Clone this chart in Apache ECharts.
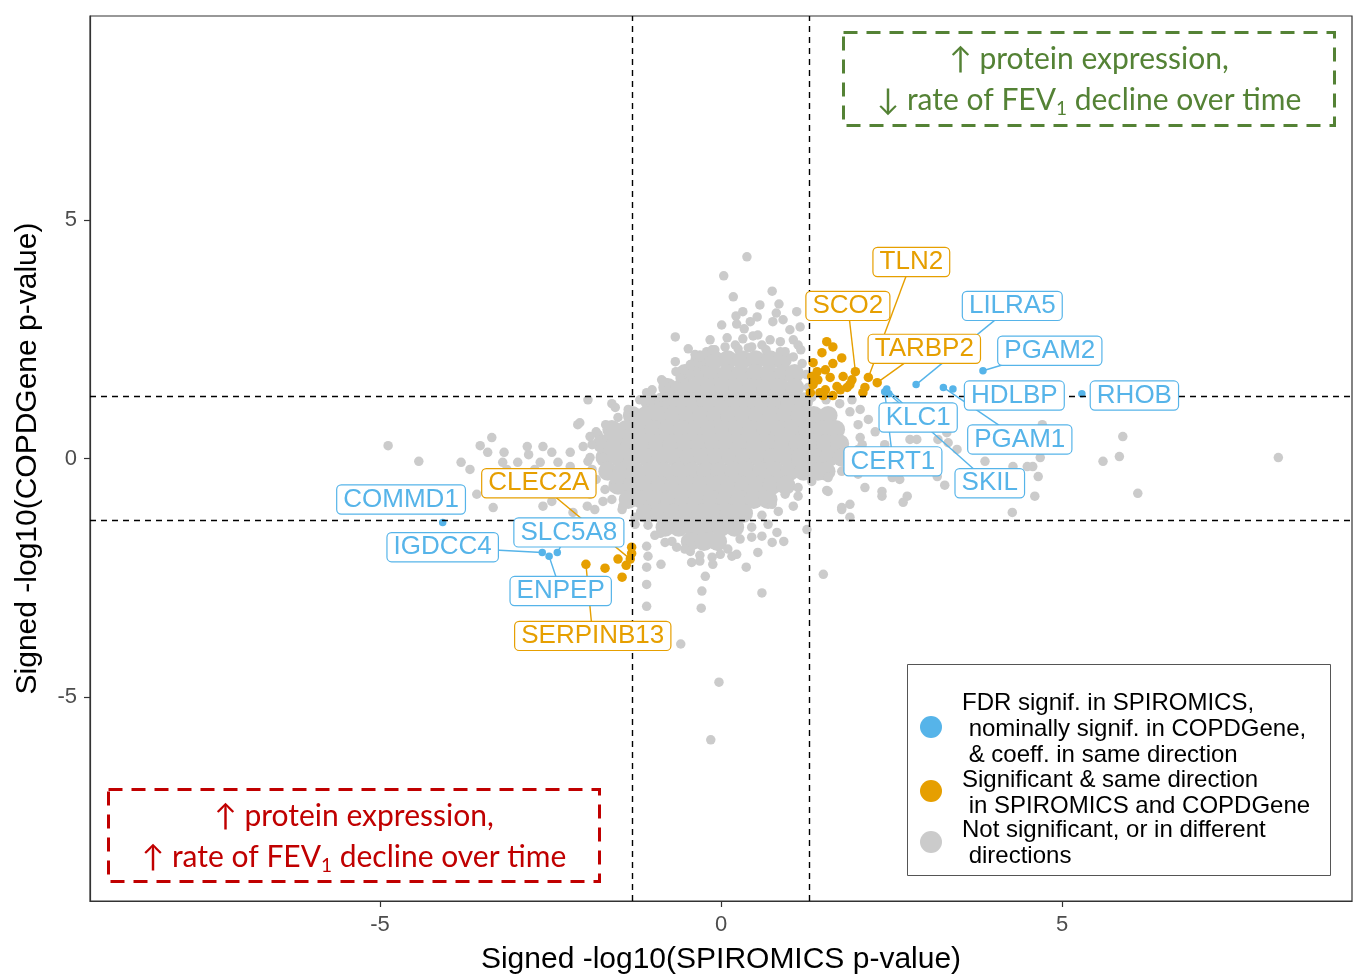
<!DOCTYPE html>
<html><head><meta charset="utf-8">
<script src="https://cdn.jsdelivr.net/npm/echarts@6/dist/echarts.min.js"></script>
<style>html,body{margin:0;padding:0;background:#fff}#c{width:1353px;height:980px}</style>
</head><body><div id="c"></div>
<script>
// ---------- data ----------
const xTicks = [-5, 0, 5];
const yTicks = [-5, 0, 5];
const threshold = 1.301; // -log10(0.05)

// dense core of the gray cloud: rows of [y, [x...]]
const grayCoreRows = [
  [2.07, [-0.31,-0.10,0.10,0.31,0.51,0.72,0.90]],
  [1.78, [-0.53,-0.32,-0.12,0.09,0.29,0.50,0.70,0.91,1.08]],
  [1.49, [-0.78,-0.57,-0.37,-0.16,0.04,0.25,0.45,0.66,0.86,1.08]],
  [1.19, [-1.04,-0.84,-0.63,-0.43,-0.22,-0.02,0.19,0.39,0.60,0.80,1.01,1.21]],
  [0.90, [-1.30,-1.10,-0.89,-0.69,-0.48,-0.28,-0.07,0.13,0.34,0.54,0.75,0.95,1.16,1.36,1.57]],
  [0.61, [-1.60,-1.39,-1.19,-0.98,-0.78,-0.57,-0.37,-0.16,0.04,0.25,0.45,0.66,0.86,1.07,1.27,1.48,1.68]],
  [0.31, [-1.74,-1.54,-1.33,-1.13,-0.92,-0.72,-0.51,-0.31,-0.10,0.10,0.31,0.51,0.72,0.92,1.13,1.33,1.54,1.74]],
  [0.02, [-1.70,-1.49,-1.29,-1.08,-0.88,-0.67,-0.47,-0.26,-0.06,0.15,0.35,0.56,0.76,0.97,1.17,1.38,1.58,1.78]],
  [-0.27,[-1.66,-1.45,-1.25,-1.04,-0.84,-0.63,-0.43,-0.22,-0.02,0.19,0.39,0.60,0.80,1.01,1.21,1.42,1.54]],
  [-0.56,[-1.51,-1.30,-1.10,-0.89,-0.69,-0.48,-0.28,-0.07,0.13,0.34,0.54,0.75,0.95]],
  [-0.86,[-1.36,-1.16,-0.95,-0.75,-0.54,-0.34,-0.13,0.07,0.28,0.48,0.69]],
  [-1.15,[-1.11,-0.90,-0.70,-0.49,-0.29,-0.08,0.12,0.33]],
  [-1.44,[-0.82,-0.62,-0.41,-0.21,0.00,0.20]],
  [-1.74,[-0.45,-0.25,-0.05]]
];

// scattered gray points (not significant / different directions)
const grayPoints = [
  // above the core
  [0.38,4.23],[0.04,3.83],[0.18,3.39],[0.75,3.51],[0.32,3.08],[0.22,2.99],[0.85,3.24],[1.11,3.08],
  [0.53,2.97],[0.23,2.82],[0.01,2.80],[0.34,2.72],[0.81,3.05],[0.91,2.91],[1.16,2.76],[0.76,2.87],
  [-0.67,2.55],[-0.48,2.30],[-0.67,2.03],[-0.35,2.01],[-0.21,2.24],[-0.09,2.28],[0.09,2.53],[0.32,2.51],
  [0.47,2.57],[0.54,2.59],[0.60,2.38],[0.72,2.49],[0.87,2.45],[1.06,2.49],[1.13,2.38],[1.17,2.28],
  [-0.67,1.51],[-1.09,1.38],[-1.60,1.15],[-1.95,1.23],[-1.55,1.07],[-2.07,0.75],[-1.80,0.50],[-1.38,0.71],
  [-1.07,1.23],[-0.89,1.28],[-0.60,1.69],[-0.45,1.76],[-0.23,1.86],[0.57,3.22],[1.01,2.70],[0.43,2.87],
  [-0.16,2.49],[0.21,2.38],[0.94,2.24],[-0.38,2.18],[0.40,2.32],[-0.87,1.65],
  // rim of the core
  [-1.19,1.23],[-1.36,1.03],[-1.51,0.86],[-1.69,0.71],[-1.83,0.56],[-1.89,0.29],[-1.92,0.02],[-1.89,-0.23],
  [-1.83,-0.44],[-1.70,-0.65],[-1.60,-0.86],[-1.45,-1.07],[-1.26,-1.23],[-1.07,-1.40],[-0.89,-1.57],[-0.72,-1.74],
  [-0.53,-1.90],[-0.31,-2.03],[-0.13,-2.07],[0.10,-1.90],[0.28,-1.69],[0.45,-1.44],[0.60,-1.19],[0.75,-0.96],
  [0.94,-0.75],[1.13,-0.61],[1.33,-0.48],[1.57,-0.40],[1.77,-0.27],[1.92,-0.06],[2.01,0.19],[2.04,0.44],
  [2.01,0.71],[1.89,0.98],[1.74,1.15],[1.54,1.23],[1.33,1.28],[-0.45,1.97],[-0.31,2.13],[-0.13,2.28],
  [0.06,2.34],[0.25,2.30],[0.45,2.34],[0.66,2.28],[0.87,2.24],[1.06,2.13],[1.19,1.99],[1.25,1.76],
  [1.28,1.49],[-0.66,1.82],[-0.84,1.61],[-1.01,1.44],
  // left side
  [-4.88,0.27],[-4.43,-0.06],[-3.81,-0.08],[-3.68,-0.23],[-3.53,0.27],[-3.42,0.13],[-3.36,0.44],[-3.18,0.13],
  [-3.20,-0.08],[-3.14,-0.23],[-2.98,-0.08],[-2.82,0.08],[-2.84,0.25],[-2.61,0.25],[-2.48,0.13],[-2.39,-0.08],
  [-2.65,-0.08],[-2.73,-0.23],[-2.21,0.13],[-2.10,0.71],[-1.92,0.46],[-2.02,0.25],[-1.77,0.33],[-1.73,0.02],
  [-1.95,-0.06],[-2.21,-0.17],[-2.61,-1.00],[-2.48,-0.90],[-2.17,-1.13],[-1.73,-0.90],[-3.34,-1.03],[-3.58,-0.75],
  [-2.29,-0.65],[-2.07,-0.44],[-1.92,-0.75],[-1.85,-1.07],[-2.36,-0.40],[-2.54,-0.54],[-2.92,-0.61],[-3.02,-0.40],
  // below the core
  [-1.96,-1.00],[-1.58,-0.61],[-1.44,-1.00],[-1.09,-1.84],[-1.07,-2.05],[-1.09,-2.28],[-0.88,-2.22],[-1.09,-2.64],
  [-1.09,-3.10],[-0.97,-1.61],[-0.82,-1.76],[-0.65,-1.86],[-0.45,-1.95],[-0.43,-2.18],[-0.31,-2.15],[-0.12,-2.22],
  [-0.23,-2.47],[-0.28,-2.78],[-0.29,-3.14],[0.16,-2.05],[0.23,-2.01],[0.37,-2.28],[0.54,-1.97],[0.60,-2.82],
  [0.75,-1.76],[0.82,-1.55],[0.92,-1.74],[0.60,-1.63],[0.45,-1.65],[0.69,-1.38],[0.84,-1.11],[1.06,-1.00],
  [1.13,-0.79],[1.26,-1.49],[1.50,-2.43],[1.55,-0.67],[1.77,-1.03],[1.89,-1.23],[-0.04,-1.84],[-0.01,-2.01],
  [-0.59,-3.89],[-0.03,-4.69],[-0.15,-5.90],[-1.26,-1.38],
  // right side
  [5.89,0.46],[5.60,-0.06],[5.84,0.04],[8.17,0.02],[6.11,-0.73],[4.27,-1.13],[4.60,-0.79],[4.65,-0.38],
  [4.57,-0.17],[4.49,-0.17],[4.28,-0.17],[3.87,-0.06],[4.68,0.02],[4.71,0.71],[3.31,0.54],[3.46,0.19],
  [3.33,0.33],[3.18,0.40],[3.17,-0.38],[3.28,-0.56],[2.73,-0.79],[2.67,-0.92],[2.36,-0.79],[2.36,-0.69],
  [1.89,-0.96],[1.77,-1.07],[1.57,-0.69],[2.77,0.40],[2.62,-0.44],[2.51,-0.40],[2.87,0.40],
  [2.04,1.03],[2.16,0.82],[2.26,0.56],[2.07,0.29],[2.18,-0.02],[2.30,-0.23],[2.55,1.09],[2.58,0.86],
  [2.40,0.29],[2.01,-0.33],[2.11,-0.61],[1.92,1.23]
];

// significant & same direction in both cohorts
const orangePoints = [
  [1.55,2.45],[1.64,2.34],[1.48,2.22],[1.77,2.11],[1.35,2.01],[1.64,1.99],[1.53,1.86],[1.33,1.72],
  [1.42,1.65],[1.60,1.70],[1.79,1.72],[1.97,1.82],[1.89,1.55],[1.45,1.38],[1.35,1.55],[1.53,1.44],
  [1.70,1.51],[1.85,1.49],[2.11,1.49],[2.16,1.70],[2.29,1.59],[2.08,1.38],[1.50,1.32],[1.31,1.38],
  [1.64,1.32],[1.75,1.44],[1.41,1.82],[1.92,1.65],
  [-1.98,-2.22],[-1.70,-2.30],[-1.51,-2.11],[-1.45,-2.49],[-1.39,-2.24],[-1.33,-2.11],[-1.31,-1.86],[-1.31,-1.99]
];

// FDR signif. in SPIROMICS, nominal in COPDGene, same direction
const bluePoints = [
  [2.43,1.46],[2.40,1.40],[2.46,1.36],[2.86,1.55],[3.84,1.84],[3.26,1.49],[3.40,1.46],[5.29,1.36],
  [-4.08,-1.34],[-2.62,-1.97],[-2.52,-2.05],[-2.40,-1.97]
];

// labelled genes
const labelNames  = ['TLN2','SCO2','TARBP2','LILRA5','PGAM2','HDLBP','RHOB','SKIL','CERT1','PGAM1','KLC1',
                     'COMMD1','IGDCC4','ENPEP','SLC5A8','CLEC2A','SERPINB13'];
const labelGroup  = ['o','o','o','b','b','b','b','b','b','b','b','b','b','b','b','o','o'];
const labelPointX = [2.16,1.97,2.29,2.86,3.84,3.40,5.29,2.46,2.40,3.26,2.43,-4.08,-2.62,-2.52,-2.40,-1.33,-1.98];
const labelPointY = [1.70,1.82,1.59,1.55,1.84,1.46,1.36,1.36,1.40,1.49,1.46,-1.34,-1.97,-2.05,-1.97,-2.11,-2.22];
// label box centres (layout, data units)
const labelBoxX = [2.79,1.86,2.98,4.27,4.82,4.30,6.06,3.94,2.52,4.38,2.89,-4.69,-4.08,-2.35,-2.23,-2.67,-1.88];
const labelBoxY = [4.12,3.20,2.30,3.20,2.26,1.32,1.32,-0.52,-0.06,0.40,0.86,-0.86,-1.86,-2.78,-1.55,-0.52,-3.72];
const labelSegment = [1,1,1,1,1,0,0,1,1,1,1,0,1,1,1,1,1];

// ---------- styles ----------
const GRAY = '#cbcbcb', ORANGE = '#E69F00', BLUE = '#56B4E9';
const GREEN = '#548235', RED = '#C00000';
const FONT = '"Liberation Sans", Arial, sans-serif';
const NOTE_FONT = 'Lato, "DejaVu Sans", sans-serif';

const grayCore = [];
grayCoreRows.forEach(([y, xs]) => xs.forEach(x => grayCore.push([x, y])));
const labelData = labelNames.map((n, i) => [labelPointX[i], labelPointY[i], labelBoxX[i], labelBoxY[i]]);

const chart = echarts.init(document.getElementById('c'), null, {renderer: 'canvas'});

function axisCommon(ticks) {
  return {
    type: 'value', min: -9.25, max: 9.25,
    splitLine: {show: false},
    axisLine: {show: true, onZero: false, lineStyle: {color: '#333', width: 1.2}},
    axisTick: {show: true, customValues: ticks, length: 6, lineStyle: {color: '#333', width: 1.2}},
    axisLabel: {customValues: ticks, color: '#4d4d4d', fontSize: 22, fontFamily: FONT},
    nameLocation: 'middle',
    nameTextStyle: {color: '#000', fontSize: 30, fontFamily: FONT}
  };
}

const xAxis = Object.assign(axisCommon(xTicks), {name: 'Signed -log10(SPIROMICS p-value)', nameGap: 44});
xAxis.axisLabel.margin = 13;
const yAxis = Object.assign(axisCommon(yTicks), {name: 'Signed -log10(COPDGene p-value)', nameGap: 47, min: -9.28, max: 9.28});
yAxis.axisLabel.margin = 13;

function noteText(x, y, arrow1, arrow2, color) {
  const a = {fontSize: 30, fontFamily: NOTE_FONT, fill: color, lineHeight: 36};
  const s = {fontSize: 19, fontFamily: NOTE_FONT, fill: color, lineHeight: 17, verticalAlign: 'bottom'};
  return [
    {type: 'text', z: 100, style: {text: arrow1 + ' protein expression,', x: x, y: y, align: 'center', verticalAlign: 'middle',
      font: '30px ' + NOTE_FONT, fill: color}},
    {type: 'text', z: 100, style: {text: '{a|' + arrow2 + ' rate of FEV}{s|1}{a| decline over time}', x: x, y: y + 41,
      align: 'center', verticalAlign: 'middle', rich: {a: a, s: s}, fill: color}}
  ];
}

const legendFont = '24px ' + FONT;
const graphic = [
  {type: 'rect', z: 100, shape: {x: 843.5, y: 32.5, width: 491, height: 93}, style: {fill: 'none', stroke: GREEN, lineWidth: 3, lineDash: [14, 9]}},
  {type: 'rect', z: 100, shape: {x: 108.5, y: 789.5, width: 491, height: 92}, style: {fill: 'none', stroke: RED, lineWidth: 3, lineDash: [14, 9]}},
  ...noteText(1089, 59, '↑', '↓', GREEN),
  ...noteText(354, 816, '↑', '↑', RED),
  {type: 'rect', z: 100, shape: {x: 907.5, y: 664.5, width: 423, height: 211}, style: {fill: '#fff', stroke: '#555', lineWidth: 1}},
  {type: 'circle', z: 101, shape: {cx: 931, cy: 727, r: 11}, style: {fill: BLUE}},
  {type: 'circle', z: 101, shape: {cx: 931, cy: 791, r: 11}, style: {fill: ORANGE}},
  {type: 'circle', z: 101, shape: {cx: 931, cy: 842, r: 11}, style: {fill: GRAY}},
  {type: 'text', z: 101, style: {text: 'FDR signif. in SPIROMICS,\n nominally signif. in COPDGene,\n & coeff. in same direction',
    x: 962, y: 690, font: legendFont, fill: '#000', lineHeight: 26, verticalAlign: 'top'}},
  {type: 'text', z: 101, style: {text: 'Significant & same direction\n in SPIROMICS and COPDGene',
    x: 962, y: 767, font: legendFont, fill: '#000', lineHeight: 26, verticalAlign: 'top'}},
  {type: 'text', z: 101, style: {text: 'Not significant, or in different\n directions',
    x: 962, y: 817, font: legendFont, fill: '#000', lineHeight: 26, verticalAlign: 'top'}}
];

const option = {
  animation: false,
  backgroundColor: '#fff',
  grid: {left: 90, right: 1, top: 16, bottom: 77, show: true, borderColor: '#333', borderWidth: 1.2, containLabel: false},
  xAxis: xAxis,
  yAxis: yAxis,
  graphic: graphic,
  series: [
    {type: 'scatter', name: 'thresholds', data: [], z: 1, silent: true,
      markLine: {silent: true, symbol: ['none', 'none'], label: {show: false},
        lineStyle: {color: '#000', type: [6, 5], width: 1.4},
        data: [{xAxis: -threshold}, {xAxis: threshold}, {yAxis: -threshold}, {yAxis: threshold}]}},
    {type: 'scatter', name: 'coreGray', data: grayCore, symbolSize: 19, z: 2, itemStyle: {color: GRAY, opacity: 1}, silent: true},
    {type: 'scatter', name: 'gray', data: grayPoints, symbolSize: 9.5, z: 2, itemStyle: {color: GRAY, opacity: 1}, silent: true},
    {type: 'scatter', name: 'orange', data: orangePoints, symbolSize: 9.5, z: 3, itemStyle: {color: ORANGE, opacity: 1}, silent: true},
    {type: 'scatter', name: 'blue', data: bluePoints, symbolSize: 7.5, z: 4, itemStyle: {color: BLUE, opacity: 1}, silent: true},
    {type: 'custom', name: 'segments', data: labelData, z: 5, silent: true,
      renderItem: function (params, api) {
        const i = params.dataIndex;
        if (!labelSegment[i]) return;
        const p = api.coord([api.value(0), api.value(1)]);
        const l = api.coord([api.value(2), api.value(3)]);
        const col = labelGroup[i] === 'b' ? BLUE : ORANGE;
        return {type: 'line', shape: {x1: p[0], y1: p[1], x2: l[0], y2: l[1]}, style: {stroke: col, lineWidth: 1.4}};
      }},
    {type: 'custom', name: 'labels', data: labelData, z: 6, silent: true,
      renderItem: function (params, api) {
        const i = params.dataIndex;
        const l = api.coord([api.value(2), api.value(3)]);
        const col = labelGroup[i] === 'b' ? BLUE : ORANGE;
        return {type: 'text', style: {text: labelNames[i], x: l[0], y: l[1], align: 'center', verticalAlign: 'middle',
          font: '26px ' + FONT, fill: col, backgroundColor: '#fff', borderColor: col, borderWidth: 1.2,
          borderRadius: 4, padding: [2, 6, 0, 6]}};
      }}
  ]
};
chart.setOption(option);
</script></body></html>
